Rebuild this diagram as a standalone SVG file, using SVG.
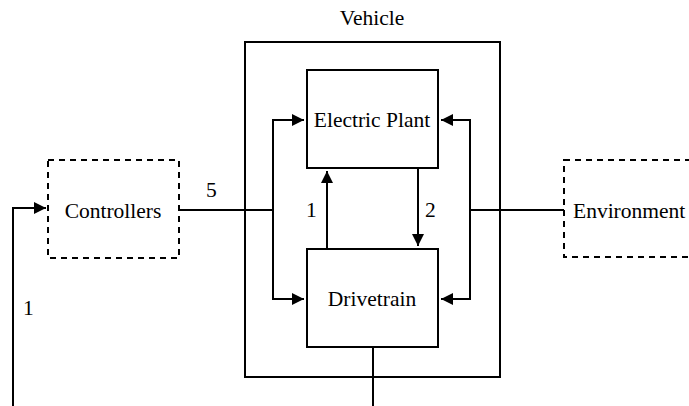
<svg xmlns="http://www.w3.org/2000/svg" width="689" height="406" viewBox="0 0 689 406">
<style>
.box{fill:#fff;stroke:#000;stroke-width:2}
.dash{fill:#fff;stroke:#000;stroke-width:2;stroke-dasharray:6,5}
.ln{fill:none;stroke:#000;stroke-width:2}
.c{text-anchor:middle}
</style>
<defs>
<marker id="ah" viewBox="0 0 12 12" refX="12" refY="6" markerWidth="12" markerHeight="12" markerUnits="userSpaceOnUse" orient="auto">
<path d="M0,0 L12,6 L0,12 Z" fill="#000"/>
</marker>
</defs>
<g font-family="'Liberation Serif', 'Times New Roman', serif" font-size="21.5" fill="#000">
<g id="vehicle">
<rect class="box" x="245" y="42" width="255" height="335"/>
<text class="c" x="372" y="25">Vehicle</text>
</g>
<g id="controllers">
<rect class="dash" x="48" y="160" width="131" height="98"/>
<text class="c" x="113" y="218">Controllers</text>
</g>
<g id="environment">
<rect class="dash" x="564" y="160" width="140" height="97"/>
<text x="573" y="218">Environment</text>
</g>
<g id="connectors">
<path class="ln" d="M13,406 V208 H46" marker-end="url(#ah)"/>
<path class="ln" d="M179,210 H273"/>
<path class="ln" d="M273,210 V120 H304" marker-end="url(#ah)"/>
<path class="ln" d="M273,210 V299 H304" marker-end="url(#ah)"/>
<path class="ln" d="M564,210 H470"/>
<path class="ln" d="M470,210 V120 H441" marker-end="url(#ah)"/>
<path class="ln" d="M470,210 V299 H441" marker-end="url(#ah)"/>
<path class="ln" d="M327,249 V171" marker-end="url(#ah)"/>
<path class="ln" d="M418,168 V246" marker-end="url(#ah)"/>
<path class="ln" d="M373,347 V406"/>
<text x="206" y="197">5</text>
<text x="23" y="315">1</text>
<text x="306" y="217">1</text>
<text x="425" y="217">2</text>
</g>
<g id="electric-plant">
<rect class="box" x="307" y="70" width="131" height="98"/>
<text class="c" x="372" y="127">Electric Plant</text>
</g>
<g id="drivetrain">
<rect class="box" x="307" y="249" width="131" height="98"/>
<text class="c" x="372" y="306">Drivetrain</text>
</g>
</g>
</svg>
